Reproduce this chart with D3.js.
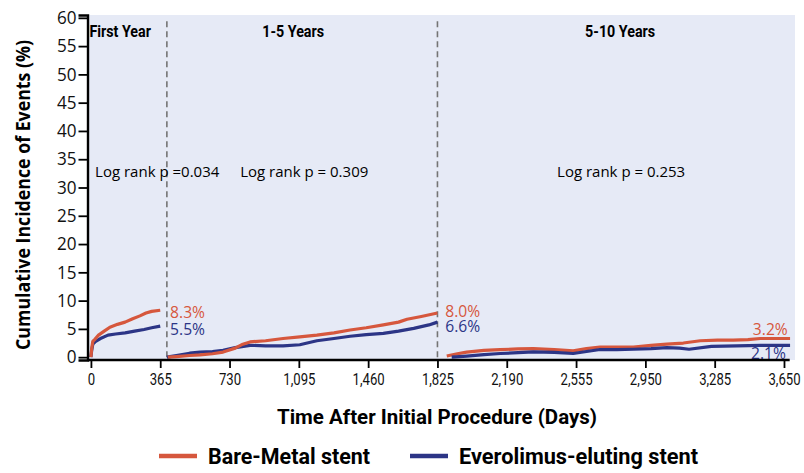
<!DOCTYPE html>
<html>
<head>
<meta charset="utf-8">
<script src="https://cdn.jsdelivr.net/npm/d3@7"></script>
<style>
  body { margin: 0; background: #fff; }
  svg { display: block; }
</style>
</head>
<body>
<div id="chart"></div>
<script>
// tick values / labels
var xTickValues = [0, 365, 730, 1095, 1460, 1825, 2190, 2555, 2920, 3285, 3650];
var xTickLabels = ["0", "365", "730", "1,095", "1,460", "1,825", "2,190", "2,555", "2,950", "3,285", "3,650"];
var yTickValues = [0, 5, 10, 15, 20, 25, 30, 35, 40, 45, 50, 55, 60];

// landmark analysis periods
var periods = ["First Year", "1-5 Years", "5-10 Years"];
var logRank = ["Log rank p =0.034", "Log rank p = 0.309", "Log rank p = 0.253"];
var cutDays = [400, 1825];

// cumulative incidence (%): [day, value]
var bmsYear1 = [[0,0],[4,1.5],[10,2.8],[22,3.2],[40,3.9],[70,4.6],[100,5.3],[140,5.8],[180,6.2],[220,6.8],[258,7.3],[290,7.8],[320,8.1],[365,8.3]];
var eesYear1 = [[0,0],[4,1.2],[10,2.3],[25,2.8],[50,3.3],[90,3.9],[130,4.1],[180,4.3],[230,4.6],[280,4.9],[320,5.2],[365,5.5]];
var bms1to5 = [[405,0],[450,0.1],[520,0.3],[575,0.4],[640,0.6],[696,0.9],[760,1.6],[800,2.3],[838,2.7],[920,2.9],[1012,3.3],[1100,3.6],[1190,3.9],[1280,4.3],[1365,4.8],[1450,5.2],[1540,5.7],[1620,6.2],[1665,6.7],[1740,7.2],[1825,7.8]];
var ees1to5 = [[400,0],[450,0.3],[520,0.7],[575,0.9],[640,1.0],[696,1.2],[760,1.7],[838,2.1],[920,2.0],[1012,2.0],[1100,2.2],[1190,2.9],[1280,3.3],[1365,3.7],[1450,4.0],[1540,4.2],[1620,4.6],[1700,5.1],[1780,5.7],[1825,6.2]];
var bms5to10 = [[1874,0.2],[1930,0.6],[1979,0.9],[2070,1.2],[2155,1.35],[2250,1.45],[2330,1.5],[2440,1.35],[2540,1.1],[2610,1.5],[2681,1.8],[2770,1.8],[2857,1.8],[2950,2.1],[3033,2.3],[3120,2.5],[3209,2.9],[3300,3.0],[3383,3.0],[3460,3.1],[3525,3.3],[3682,3.3]];
var ees5to10 = [[1900,0],[1979,0.2],[2070,0.45],[2155,0.65],[2250,0.8],[2330,0.94],[2440,0.85],[2540,0.65],[2610,1.0],[2681,1.35],[2770,1.35],[2857,1.4],[2950,1.5],[3033,1.7],[3100,1.6],[3150,1.4],[3268,1.9],[3400,2.0],[3525,2.1],[3682,2.1]];

// printed end-of-period values (v = baseline position on the y scale)
var endLabels = [
  {day: 417, v: 6.9, text: "8.3%", s: "bms", anchor: "start"},
  {day: 417, v: 4.0, text: "5.5%", s: "ees", anchor: "start"},
  {day: 1866, v: 7.1, text: "8.0%", s: "bms", anchor: "start"},
  {day: 1866, v: 4.4, text: "6.6%", s: "ees", anchor: "start"},
  {day: 3670, v: 3.9, text: "3.2%", s: "bms", anchor: "end"},
  {day: 3660, v: -0.4, text: "2.1%", s: "ees", anchor: "end"}
];

var colors = { bms: "#d6573d", ees: "#2c3586" };
var condFont = "Roboto, 'Liberation Sans', sans-serif";
var textFont = "'Open Sans', sans-serif";

function squeeze(sel, k) {
    sel.each(function() {
        var w = this.getComputedTextLength();
        d3.select(this).attr("textLength", w * k).attr("lengthAdjust", "spacingAndGlyphs");
    });
}

var W = 804, H = 473;
var svg = d3.select("#chart").append("svg")
    .attr("width", W)
    .attr("height", H);

var x = d3.scaleLinear().domain([-18, 3708]).range([87.5, 795]);
var y = d3.scaleLinear().domain([-0.5, 60.5]).range([360, 15]);

// plot background
svg.append("rect")
    .attr("x", x(-18)).attr("y", y(60.5))
    .attr("width", x(3708) - x(-18))
    .attr("height", y(-0.5) - y(60.5))
    .attr("fill", "#e6eaf6");

// dashed separators
svg.selectAll(".cut")
    .data(cutDays)
    .enter().append("line")
    .attr("x1", function(d) { return x(d); })
    .attr("x2", function(d) { return x(d); })
    .attr("y1", y(59.4))
    .attr("y2", y(-0.5))
    .attr("stroke", "#747474")
    .attr("stroke-width", 1.6)
    .attr("stroke-dasharray", "6,4");

// curves
var line = d3.line()
    .x(function(d) { return x(d[0]); })
    .y(function(d) { return y(d[1]); })
    .curve(d3.curveLinear);

var curves = [
  {data: ees1to5, s: "ees"}, {data: bms1to5, s: "bms"},
  {data: eesYear1, s: "ees"}, {data: bmsYear1, s: "bms"},
  {data: bms5to10, s: "bms"}, {data: ees5to10, s: "ees"}
];
svg.selectAll(".curve")
    .data(curves)
    .enter().append("path")
    .attr("d", function(d) { return line(d.data); })
    .attr("fill", "none")
    .attr("stroke", function(d) { return colors[d.s]; })
    .attr("stroke-width", 3.2)
    .attr("stroke-linejoin", "round");

// end value labels
svg.selectAll(".endlab")
    .data(endLabels)
    .enter().append("text")
    .attr("x", function(d) { return x(d.day); })
    .attr("y", function(d) { return y(d.v); })
    .attr("text-anchor", function(d) { return d.anchor; })
    .attr("fill", function(d) { return colors[d.s]; })
    .style("font-family", textFont)
    .style("font-size", "17px")
    .text(function(d) { return d.text; })
    .call(squeeze, 0.92);

// period headers and log-rank labels
var headDays = [-8, 1065, 2787];
svg.selectAll(".period")
    .data(periods)
    .enter().append("text")
    .attr("x", function(d, i) { return x(headDays[i]); })
    .attr("y", 37)
    .attr("text-anchor", function(d, i) { return i == 0 ? "start" : "middle"; })
    .style("font-family", condFont)
    .style("font-weight", "bold")
    .style("font-size", "17px")
    .text(function(d) { return d; })
    .call(squeeze, 0.84);

var lrDays = [22, 786, 2455];
svg.selectAll(".lr")
    .data(logRank)
    .enter().append("text")
    .attr("x", function(d, i) { return x(lrDays[i]); })
    .attr("y", 177)
    .style("font-family", textFont)
    .style("font-size", "15px")
    .text(function(d) { return d; });

// y axis
var yAxis = svg.append("g")
    .attr("transform", "translate(" + x(-18) + ",0)")
    .call(d3.axisLeft(y).tickValues(yTickValues).tickSize(9).tickPadding(2));
yAxis.select(".domain").attr("stroke-width", 2.4);
yAxis.selectAll(".tick line").attr("stroke-width", 1.8);
yAxis.selectAll(".tick text")
    .style("font-family", textFont)
    .style("font-size", "18px")
    .attr("fill", "#111")
    .call(squeeze, 0.95);

// x axis
var xAxis = svg.append("g")
    .attr("transform", "translate(0," + y(-0.5) + ")")
    .call(d3.axisBottom(x).tickValues(xTickValues)
        .tickFormat(function(d, i) { return xTickLabels[i]; })
        .tickSize(8).tickSizeOuter(0).tickPadding(6));
xAxis.select(".domain").attr("d", "M" + x(-18) + ",0H" + x(3680)).attr("stroke-width", 2.4);
xAxis.selectAll(".tick line").attr("stroke-width", 1.8);
xAxis.selectAll(".tick text")
    .style("font-family", condFont)
    .style("font-size", "16px")
    .attr("fill", "#111")
    .call(squeeze, 0.82);

// axis titles
svg.append("text")
    .attr("transform", "translate(30,195) rotate(-90)")
    .attr("text-anchor", "middle")
    .style("font-family", textFont)
    .style("font-weight", "bold")
    .style("font-size", "19px")
    .text("Cumulative Incidence of Events (%)")
    .attr("textLength", 310)
    .attr("lengthAdjust", "spacingAndGlyphs");

svg.append("text")
    .attr("x", 437).attr("y", 424)
    .attr("text-anchor", "middle")
    .style("font-family", condFont)
    .style("font-weight", "bold")
    .style("font-size", "21px")
    .text("Time After Initial Procedure (Days)")
    .attr("textLength", 320)
    .attr("lengthAdjust", "spacingAndGlyphs");

// legend
var legend = [
  {text: "Bare-Metal stent", s: "bms", x: 159, w: 162},
  {text: "Everolimus-eluting stent", s: "ees", x: 410, w: 239}
];
var lg = svg.selectAll(".leg")
    .data(legend)
    .enter().append("g")
    .attr("transform", function(d) { return "translate(" + d.x + ",456)"; });
lg.append("line")
    .attr("x1", 0).attr("x2", 38)
    .attr("stroke", function(d) { return colors[d.s]; })
    .attr("stroke-width", 4.5);
lg.append("text")
    .attr("x", 49).attr("y", 8)
    .style("font-family", condFont)
    .style("font-weight", "bold")
    .style("font-size", "22px")
    .text(function(d) { return d.text; })
    .attr("textLength", function(d) { return d.w; })
    .attr("lengthAdjust", "spacingAndGlyphs");
</script>
</body>
</html>
